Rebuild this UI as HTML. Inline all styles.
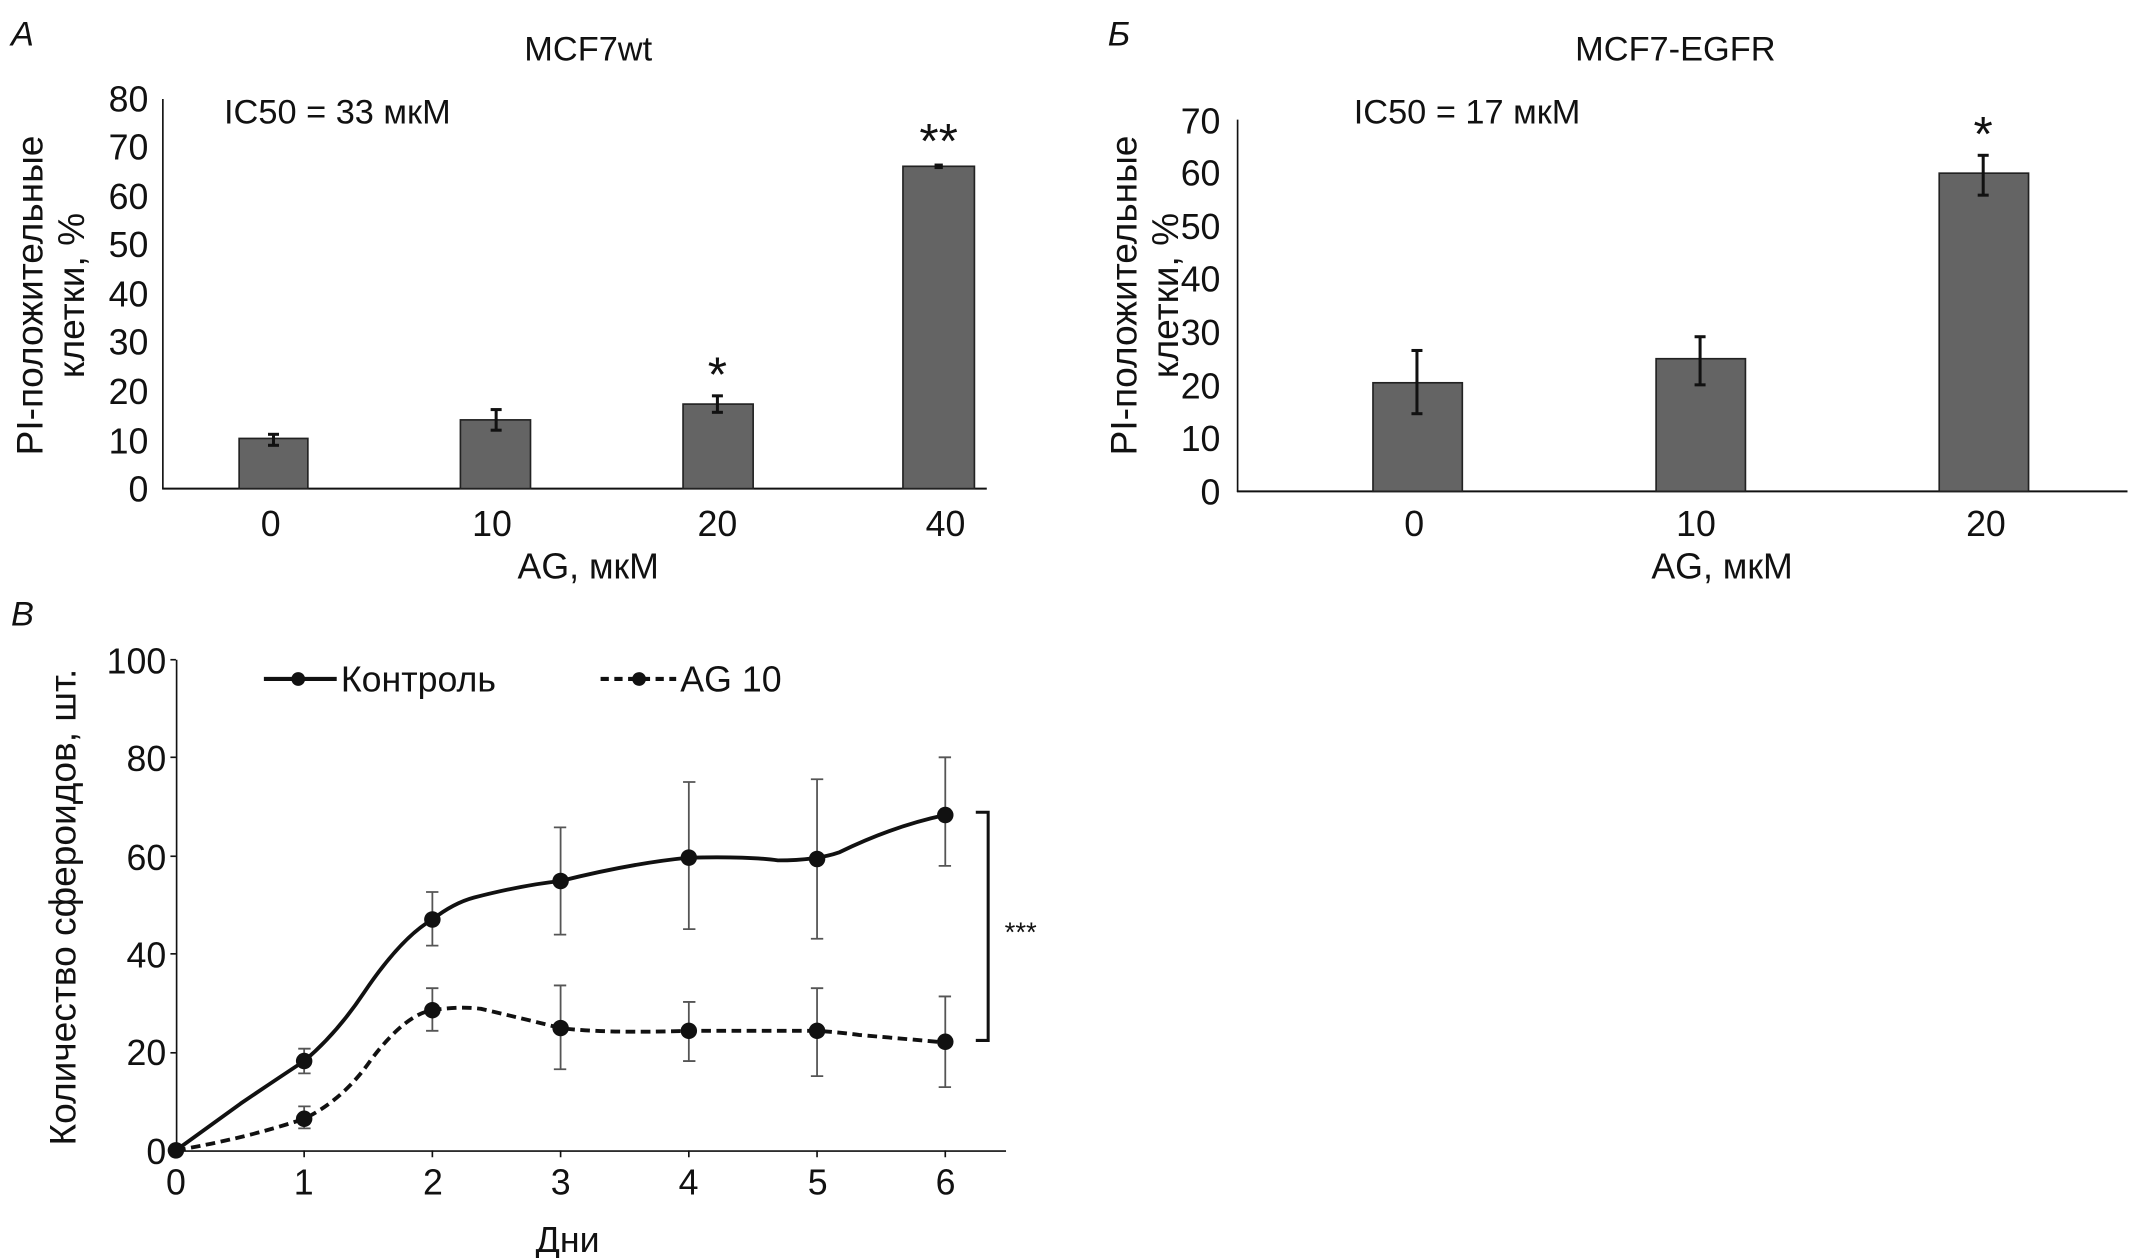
<!DOCTYPE html>
<html><head><meta charset="utf-8"><style>
html,body{margin:0;padding:0;background:#fff;}
svg{display:block;}
text{font-family:"Liberation Sans","DejaVu Sans",sans-serif;fill:#111;}
</style></head><body>
<svg width="2133" height="1258" viewBox="0 0 1552 915.3" preserveAspectRatio="none" xmlns="http://www.w3.org/2000/svg">
<!-- Panel A -->
<text x="8" y="33" font-size="25" font-style="italic">A</text>
<text x="428" y="44" font-size="25" text-anchor="middle">MCF7wt</text>
<text x="163" y="90" font-size="25">IC50 = 33 мкМ</text>
<g font-size="26" text-anchor="end">
<text x="108" y="365">0</text><text x="108" y="330">10</text><text x="108" y="294">20</text><text x="108" y="258">30</text><text x="108" y="223">40</text><text x="108" y="187">50</text><text x="108" y="152">60</text><text x="108" y="116">70</text><text x="108" y="81">80</text>
</g>
<text transform="translate(31,215) rotate(-90)" font-size="27" text-anchor="middle">PI-положительные</text>
<text transform="translate(61,215) rotate(-90)" font-size="27" text-anchor="middle">клетки, %</text>
<line x1="118.5" y1="72" x2="118.5" y2="356" stroke="#111" stroke-width="1.2"/>
<line x1="118" y1="355.5" x2="718" y2="355.5" stroke="#111" stroke-width="1.5"/>
<g fill="#646464" stroke="#222" stroke-width="1.2">
<rect x="174" y="319" width="50" height="36.5"/>
<rect x="335" y="305.5" width="51" height="50"/>
<rect x="497" y="294" width="51" height="61.5"/>
<rect x="657" y="121" width="52" height="234.5"/>
</g>
<g stroke="#111" stroke-width="2.2">
<line x1="199" y1="316" x2="199" y2="324"/><line x1="195" y1="316" x2="203" y2="316"/><line x1="195" y1="324" x2="203" y2="324"/>
<line x1="361" y1="298" x2="361" y2="313"/><line x1="357" y1="298" x2="365" y2="298"/><line x1="357" y1="313" x2="365" y2="313"/>
<line x1="522" y1="288" x2="522" y2="300"/><line x1="518" y1="288" x2="526" y2="288"/><line x1="518" y1="300" x2="526" y2="300"/>
<rect x="680" y="119" width="6" height="4" fill="#111" stroke="none"/>
</g>
<text x="522" y="285" font-size="36" text-anchor="middle">*</text>
<text x="683" y="115" font-size="36" text-anchor="middle">**</text>
<g font-size="26" text-anchor="middle">
<text x="197" y="390">0</text><text x="358" y="390">10</text><text x="522" y="390">20</text><text x="688" y="390">40</text>
<text x="428" y="421">AG, мкМ</text>
</g>
<!-- Panel B -->
<text x="806" y="33" font-size="25" font-style="italic">Б</text>
<text x="1219" y="44" font-size="25" text-anchor="middle">MCF7-EGFR</text>
<text x="985" y="90" font-size="25">IC50 = 17 мкМ</text>
<g font-size="26" text-anchor="end">
<text x="888" y="367">0</text><text x="888" y="328">10</text><text x="888" y="290">20</text><text x="888" y="251">30</text><text x="888" y="212">40</text><text x="888" y="174">50</text><text x="888" y="135">60</text><text x="888" y="97">70</text>
</g>
<text transform="translate(827,215) rotate(-90)" font-size="27" text-anchor="middle">PI-положительные</text>
<text transform="translate(857,215) rotate(-90)" font-size="27" text-anchor="middle">клетки, %</text>
<line x1="900.5" y1="87" x2="900.5" y2="358" stroke="#111" stroke-width="1.2"/>
<line x1="900" y1="357.5" x2="1548" y2="357.5" stroke="#111" stroke-width="1.5"/>
<g fill="#646464" stroke="#222" stroke-width="1.2">
<rect x="999" y="278.5" width="65" height="79"/>
<rect x="1205" y="261" width="65" height="96.5"/>
<rect x="1411" y="126" width="65" height="231.5"/>
</g>
<g stroke="#111" stroke-width="2.2">
<line x1="1031" y1="255" x2="1031" y2="301"/><line x1="1027" y1="255" x2="1035" y2="255"/><line x1="1027" y1="301" x2="1035" y2="301"/>
<line x1="1237" y1="245" x2="1237" y2="280"/><line x1="1233" y1="245" x2="1241" y2="245"/><line x1="1233" y1="280" x2="1241" y2="280"/>
<line x1="1443" y1="113" x2="1443" y2="142"/><line x1="1439" y1="113" x2="1447" y2="113"/><line x1="1439" y1="142" x2="1447" y2="142"/>
</g>
<text x="1443" y="110" font-size="36" text-anchor="middle">*</text>
<g font-size="26" text-anchor="middle">
<text x="1029" y="390">0</text><text x="1234" y="390">10</text><text x="1445" y="390">20</text>
<text x="1253" y="421">AG, мкМ</text>
</g>
<!-- Panel C -->
<text x="8" y="455" font-size="25" font-style="italic">В</text>
<g font-size="26" text-anchor="end">
<text x="121" y="847">0</text><text x="121" y="775">20</text><text x="121" y="704">40</text><text x="121" y="633">60</text><text x="121" y="561">80</text><text x="121" y="490">100</text>
</g>
<text transform="translate(55,660) rotate(-90)" font-size="27" text-anchor="middle">Количество сфероидов, шт.</text>
<line x1="128.5" y1="480" x2="128.5" y2="838" stroke="#111" stroke-width="1.2"/>
<line x1="128" y1="837.5" x2="732" y2="837.5" stroke="#111" stroke-width="1.2"/>
<g stroke="#111" stroke-width="1.2">
<line x1="124" y1="480" x2="128" y2="480"/><line x1="124" y1="551" x2="128" y2="551"/><line x1="124" y1="623" x2="128" y2="623"/><line x1="124" y1="694" x2="128" y2="694"/><line x1="124" y1="766" x2="128" y2="766"/>
<line x1="221.3" y1="837" x2="221.3" y2="842"/><line x1="314.6" y1="837" x2="314.6" y2="842"/><line x1="407.9" y1="837" x2="407.9" y2="842"/><line x1="501.2" y1="837" x2="501.2" y2="842"/><line x1="594.5" y1="837" x2="594.5" y2="842"/><line x1="687.8" y1="837" x2="687.8" y2="842"/>
</g>
<g font-size="26" text-anchor="middle">
<text x="128" y="869">0</text><text x="221" y="869">1</text><text x="315" y="869">2</text><text x="408" y="869">3</text><text x="501" y="869">4</text><text x="595" y="869">5</text><text x="688" y="869">6</text>
<text x="413" y="911">Дни</text>
</g>
<!-- error bars -->
<g stroke="#555" stroke-width="1.3">
<path d="M221.3 763V781M217 763h9M217 781h9 M314.6 649V688M310 649h9M310 688h9 M407.9 602V680M403 602h9M403 680h9 M501.2 569V676M497 569h9M497 676h9 M594.5 567V683M590 567h9M590 683h9 M687.8 551V630M683 551h9M683 630h9"/>
<path d="M221.3 805V821M217 805h9M217 821h9 M314.6 719V750M310 719h9M310 750h9 M407.9 717V778M403 717h9M403 778h9 M501.2 729V772M497 729h9M497 772h9 M594.5 719V783M590 719h9M590 783h9 M687.8 725V791M683 725h9M683 791h9"/>
</g>
<path d="M128 837 L175 803 Q200 786 221.3 772 Q245 752 265 722 Q292 682 314.6 669 Q330 657 345 653 Q380 644 407.9 641 Q460 628 501.2 624 Q545 623 566 626 Q594 626 611 620 Q650 601 687.8 593" fill="none" stroke="#111" stroke-width="2.8"/>
<path d="M128 837 Q180 828 221.3 814 Q250 800 270 771 Q295 738 314.6 735 Q335 732 350 734 Q380 741 407.9 748 Q440 752 501.2 750 L594.5 750 Q610 751 625 753 Q660 756 687.8 758.5" fill="none" stroke="#111" stroke-width="2.8" stroke-dasharray="7,4"/>
<g fill="#111">
<circle cx="128" cy="837" r="6"/><circle cx="221.3" cy="772" r="6"/><circle cx="314.6" cy="669" r="6"/><circle cx="407.9" cy="641" r="6"/><circle cx="501.2" cy="624" r="6"/><circle cx="594.5" cy="625" r="6"/><circle cx="687.8" cy="593" r="6"/>
<circle cx="221.3" cy="814" r="6"/><circle cx="314.6" cy="735" r="6"/><circle cx="407.9" cy="748" r="6"/><circle cx="501.2" cy="750" r="6"/><circle cx="594.5" cy="750" r="6"/><circle cx="687.8" cy="758" r="6"/>
</g>
<!-- legend -->
<line x1="192" y1="494" x2="245" y2="494" stroke="#111" stroke-width="3"/>
<circle cx="217" cy="494" r="5" fill="#111"/>
<text x="248" y="503" font-size="26">Контроль</text>
<line x1="437" y1="494" x2="492" y2="494" stroke="#111" stroke-width="3" stroke-dasharray="6,4"/>
<circle cx="465" cy="494" r="5" fill="#111"/>
<text x="495" y="503" font-size="26">AG 10</text>
<!-- bracket -->
<path d="M710 591H719V757H710" fill="none" stroke="#111" stroke-width="2.2"/>
<text x="731" y="685" font-size="20">***</text>
</svg>
</body></html>
